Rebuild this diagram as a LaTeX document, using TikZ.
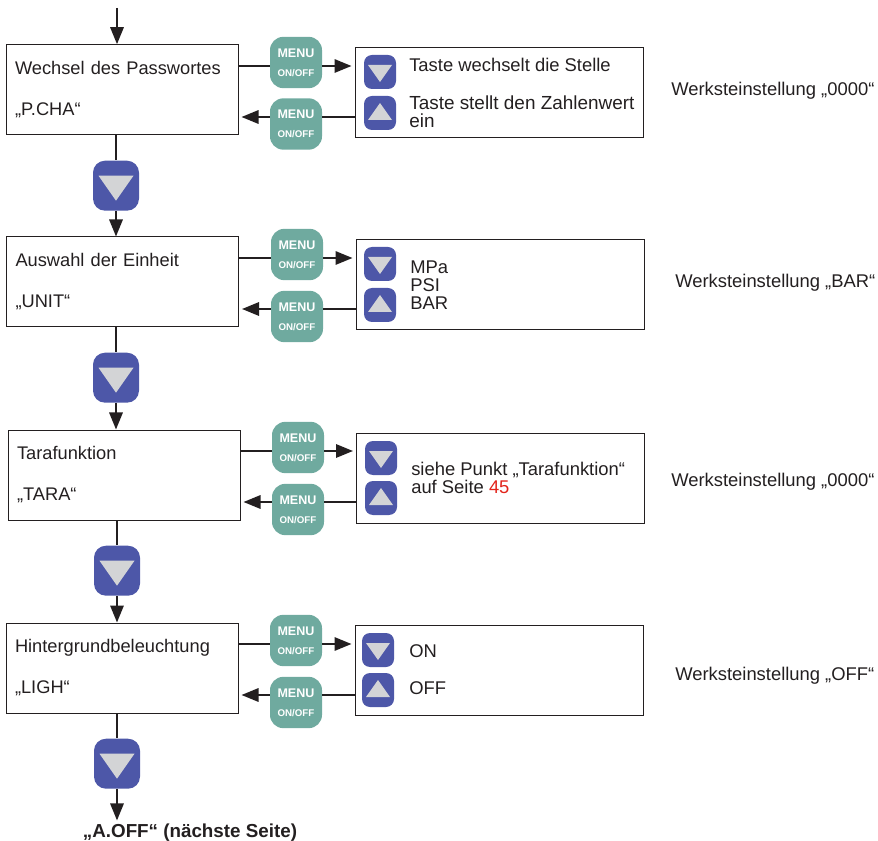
\documentclass[tikz,border=0pt]{standalone}
\usepackage{fontspec}
\setmainfont{Liberation Sans}
\usetikzlibrary{arrows.meta}
\definecolor{keyblue}{HTML}{4D57A8}
\definecolor{keygray}{HTML}{D3D4D6}
\definecolor{menugreen}{HTML}{6FAA9F}
\definecolor{inkblack}{HTML}{231F20}
\definecolor{pagered}{HTML}{E2231A}
\tikzset{plain/.style = {font=\fontsize{13.8}{13.5}\selectfont, text=inkblack, inner sep=0}}
\tikzset{stepbox/.style = {draw=inkblack, line width=0.75pt, rectangle, minimum width=174pt, minimum height=67.5pt, inner xsep=6.75pt, inner ysep=0, text width=160.5pt, align=left, text=inkblack, font=\fontsize{13.7}{27.75}\selectfont, execute at begin node={\vspace*{3pt}}}}
\tikzset{infobox/.style = {draw=inkblack, line width=0.75pt, rectangle, minimum width=216pt, minimum height=67.5pt}}
\tikzset{menukey/.style = {rectangle, fill=menugreen, rounded corners=10pt, minimum width=39pt, minimum height=38.5pt, inner sep=0, align=center, text=white, font=\bfseries\fontsize{9.4}{14}\selectfont}}
\tikzset{smallkey/.style = {rectangle, fill=keyblue, rounded corners=6pt, minimum width=24pt, minimum height=25.5pt, inner sep=0}}
\tikzset{downkey/.style = {smallkey, path picture={\fill[keygray,sharp corners] ([shift={(-12,-7)}]path picture bounding box.center) -- ([shift={(12,-7)}]path picture bounding box.center) -- ([shift={(0,10)}]path picture bounding box.center) -- cycle;}}}
\tikzset{upkey/.style = {smallkey, path picture={\fill[keygray,sharp corners] ([shift={(-12,7)}]path picture bounding box.center) -- ([shift={(12,7)}]path picture bounding box.center) -- ([shift={(0,-10)}]path picture bounding box.center) -- cycle;}}}
\tikzset{nextkey/.style = {rectangle, fill=keyblue, rounded corners=9pt, minimum width=34.5pt, minimum height=37.5pt, inner sep=0, path picture={\fill[keygray,sharp corners] ([shift={(-17.5,-10)}]path picture bounding box.center) -- ([shift={(17.5,-10)}]path picture bounding box.center) -- ([shift={(0,15)}]path picture bounding box.center) -- cycle;}}}
\tikzset{link/.style = {draw=inkblack, line width=1.6pt}}
\tikzset{flow/.style = {link, -{Triangle[length=12.75pt,width=10pt]}}}
\tikzset{gapflow/.style = {flow, shorten >=2.25pt}}
\begin{document}
\begin{tikzpicture}[x=0.75pt,y=-0.75pt]
        \useasboundingbox (0,0) rectangle (878,841);
        % row 1
        \node [stepbox] (passbox) at (122,89.7) {Wechsel des Passwortes\\„P.CHA“};
        \node [menukey] (passmenua) at (296,62.5) {MENU\\{\fontsize{7.3}{14}\selectfont ON/OFF}};
        \node [menukey] (passmenub) at (296,124) {MENU\\{\fontsize{7.3}{14}\selectfont ON/OFF}};
        \node [infobox] (passinfo) at (499,92.7) {};
        \node [downkey] (passdown) at (380,72) {};
        \node [upkey] (passup) at (380,113) {};
        \node [plain,anchor=base west] (passtexta) at (409,72) {Taste wechselt die Stelle};
        \node [plain,anchor=west,align=left,font=\fontsize{14.2}{13.5}\selectfont] (passtextb) at (409,112) {Taste stellt den Zahlenwert\\ein};
        \node [plain,anchor=base west] (passfactory) at (671,96) {Werksteinstellung „0000“};
        \node [nextkey] (passnext) at (116,185.7) {};
        % row 2
        \node [stepbox] (unitbox) at (122.5,282) {Auswahl der Einheit\\„UNIT“};
        \node [menukey] (unitmenua) at (297,254.5) {MENU\\{\fontsize{7.3}{14}\selectfont ON/OFF}};
        \node [menukey] (unitmenub) at (297,316.5) {MENU\\{\fontsize{7.3}{14}\selectfont ON/OFF}};
        \node [infobox] (unitinfo) at (500,284.5) {};
        \node [downkey] (unitdown) at (380,264) {};
        \node [upkey] (unitup) at (380,305) {};
        \node [plain,anchor=west,align=left] (unittext) at (410,285) {MPa\\PSI\\BAR};
        \node [plain,anchor=base west] (unitfactory) at (675,288) {Werksteinstellung „BAR“};
        \node [nextkey] (unitnext) at (116,377.7) {};
        % row 3
        \node [stepbox] (tarabox) at (124,475) {Tarafunktion\\„TARA“};
        \node [menukey] (taramenua) at (298,447.5) {MENU\\{\fontsize{7.3}{14}\selectfont ON/OFF}};
        \node [menukey] (taramenub) at (298,509.5) {MENU\\{\fontsize{7.3}{14}\selectfont ON/OFF}};
        \node [infobox] (tarainfo) at (500.5,478) {};
        \node [downkey] (taradown) at (381,458) {};
        \node [upkey] (taraup) at (381,498) {};
        \node [plain,anchor=west,align=left] (taratext) at (411,478) {siehe Punkt „Tarafunktion“\\[0.5pt]auf Seite \textcolor{pagered}{45}};
        \node [plain,anchor=base west] (tarafactory) at (671,486) {Werksteinstellung „0000“};
        \node [nextkey] (taranext) at (117,570.7) {};
        % row 4
        \node [stepbox] (lighbox) at (122,668) {Hintergrundbeleuchtung\\„LIGH“};
        \node [menukey] (lighmenua) at (296,640.5) {MENU\\{\fontsize{7.3}{14}\selectfont ON/OFF}};
        \node [menukey] (lighmenub) at (296,702.5) {MENU\\{\fontsize{7.3}{14}\selectfont ON/OFF}};
        \node [infobox] (lighinfo) at (499,670.5) {};
        \node [downkey] (lighdown) at (378,650) {};
        \node [upkey] (lighup) at (378,690) {};
        \node [plain,anchor=base west] (lightexta) at (409,657) {ON};
        \node [plain,anchor=base west] (lightextb) at (409,694) {OFF};
        \node [plain,anchor=base west] (lighfactory) at (675,680) {Werksteinstellung „OFF“};
        \node [nextkey] (lighnext) at (117,763.7) {};
        \node [plain,anchor=base,font=\bfseries\fontsize{14.1}{13.5}\selectfont,inner ysep=2pt] (aoff) at (190,837) {„A.OFF“ (nächste Seite)};
        \coordinate (start) at (117,8);
        \coordinate (passa) at (296,66);
        \coordinate (passb) at (296,117);
        \coordinate (unita) at (297,258);
        \coordinate (unitb) at (297,309);
        \coordinate (taraa) at (298,451);
        \coordinate (tarab) at (298,502);
        \coordinate (ligha) at (296,644);
        \coordinate (lighb) at (296,695);
        % vertical flow
        \draw [flow] (start) -- (start |- passbox.north);
        \draw [link] (passnext |- passbox.south) -- (passnext);
        \draw [flow] (passnext.south) -- (passnext.south |- unitbox.north);
        \draw [link] (unitnext |- unitbox.south) -- (unitnext);
        \draw [flow] (unitnext.south) -- (unitnext.south |- tarabox.north);
        \draw [link] (taranext |- tarabox.south) -- (taranext);
        \draw [flow] (taranext.south) -- (taranext.south |- lighbox.north);
        \draw [link] (lighnext |- lighbox.south) -- (lighnext);
        \draw [flow] (lighnext.south) -- (lighnext.south |- aoff.north);
        % menu links
        \draw [link] (passbox.east |- passa) -- (passmenua.west |- passa);
        \draw [gapflow] (passmenua.east |- passa) -- (passinfo.west |- passa);
        \draw [link] (passinfo.west |- passb) -- (passmenub.east |- passb);
        \draw [gapflow] (passmenub.west |- passb) -- (passbox.east |- passb);
        \draw [link] (unitbox.east |- unita) -- (unitmenua.west |- unita);
        \draw [gapflow] (unitmenua.east |- unita) -- (unitinfo.west |- unita);
        \draw [link] (unitinfo.west |- unitb) -- (unitmenub.east |- unitb);
        \draw [gapflow] (unitmenub.west |- unitb) -- (unitbox.east |- unitb);
        \draw [link] (tarabox.east |- taraa) -- (taramenua.west |- taraa);
        \draw [gapflow] (taramenua.east |- taraa) -- (tarainfo.west |- taraa);
        \draw [link] (tarainfo.west |- tarab) -- (taramenub.east |- tarab);
        \draw [gapflow] (taramenub.west |- tarab) -- (tarabox.east |- tarab);
        \draw [link] (lighbox.east |- ligha) -- (lighmenua.west |- ligha);
        \draw [gapflow] (lighmenua.east |- ligha) -- (lighinfo.west |- ligha);
        \draw [link] (lighinfo.west |- lighb) -- (lighmenub.east |- lighb);
        \draw [gapflow] (lighmenub.west |- lighb) -- (lighbox.east |- lighb);
    \end{tikzpicture}
\end{document}
